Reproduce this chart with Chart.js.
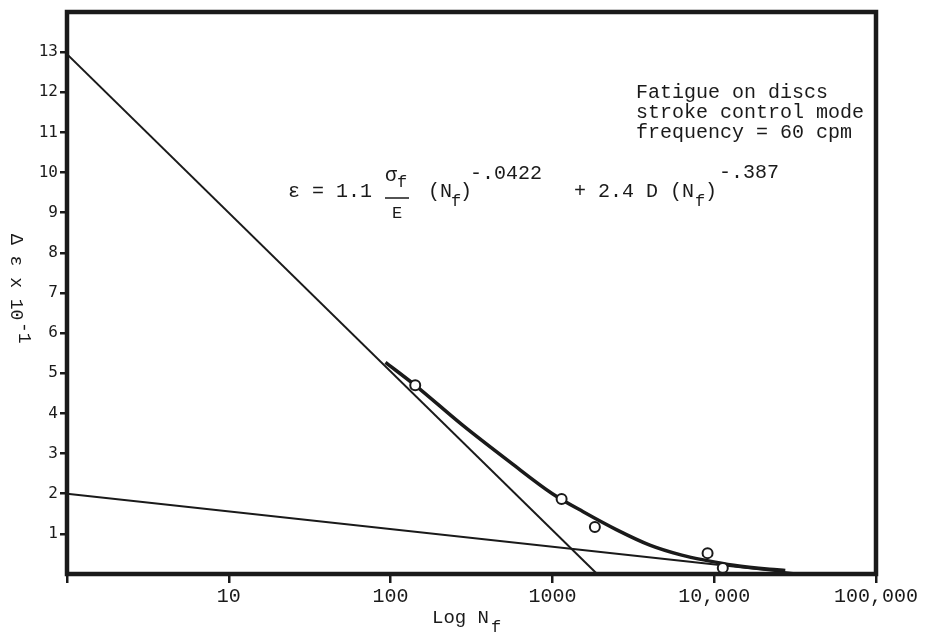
<!DOCTYPE html>
<html>
<head>
<meta charset="utf-8">
<script src="https://cdn.jsdelivr.net/npm/chart.js@4.4.1/dist/chart.umd.min.js"></script>
<style>
  html, body { margin: 0; padding: 0; background: #fff; }
  canvas { display: block; }
</style>
</head>
<body>
<canvas id="c" width="929" height="633"></canvas>
<script>
// ---- data ----
const xTickValues = [1, 10, 100, 1000, 10000, 100000];
const xTickLabels = ['', '10', '100', '1000', '10,000', '100,000'];
const yTickLabels = ['1','2','3','4','5','6','7','8','9','10','11','12','13'];

// measured fatigue data (circles)
const pointsN   = [142, 1140, 1830, 9100, 11300];
const pointsEps = [4.70, 1.87, 1.17, 0.52, 0.15];

// elastic (steep) straight line
const steepN   = [1, 1890];
const steepEps = [12.95, 0];

// plastic (shallow) straight line
const shallowN   = [1, 35000];
const shallowEps = [2.0, 0];

// fitted curve (thick)
const curveN   = [93, 142, 276, 550, 1000, 1550, 2500, 4000, 6300, 8900, 13200, 22000, 27500];
const curveEps = [5.27, 4.70, 3.72, 2.78, 2.00, 1.55, 1.10, 0.72, 0.47, 0.34, 0.22, 0.12, 0.09];

const toXY = (xs, ys) => xs.map((x, i) => ({ x: x, y: ys[i] }));

const INK = '#1a1a1a';
const MONO = '"Liberation Mono", "Courier New", monospace';

const annotations = {
  id: 'annotations',
  afterDraw(chart) {
    const ctx = chart.ctx;
    const a = chart.chartArea;
    ctx.save();
    // frame
    ctx.strokeStyle = INK;
    ctx.lineWidth = 4.5;
    ctx.strokeRect(a.left, a.top, a.right - a.left, a.bottom - a.top);

    ctx.fillStyle = INK;
    ctx.textBaseline = 'middle';
    ctx.textAlign = 'left';

    // legend text block
    ctx.font = '20px ' + MONO;
    ctx.fillText('Fatigue on discs', 636, 93);
    ctx.fillText('stroke control mode', 636, 113);
    ctx.fillText('frequency = 60 cpm', 636, 133);

    // equation
    const yM = 192, ySup = 174, ySub = 201;
    ctx.font = '20px ' + MONO;
    ctx.fillText('\u03b5 = 1.1', 288, yM);
    ctx.fillText('\u03c3', 385, 176);
    ctx.font = '17px ' + MONO;
    ctx.fillText('f', 397, 182);
    ctx.lineWidth = 1.5;
    ctx.beginPath();
    ctx.moveTo(385, 198); ctx.lineTo(409, 198);
    ctx.stroke();
    ctx.font = '17px ' + MONO;
    ctx.fillText('E', 392, 213);
    ctx.font = '20px ' + MONO;
    ctx.fillText('(N', 428, yM);
    ctx.font = '17px ' + MONO;
    ctx.fillText('f', 451, ySub);
    ctx.font = '20px ' + MONO;
    ctx.fillText(')', 460, yM);
    ctx.fillText('-.0422', 470, ySup);
    ctx.fillText('+ 2.4 D (N', 574, yM);
    ctx.font = '17px ' + MONO;
    ctx.fillText('f', 695, ySub);
    ctx.font = '20px ' + MONO;
    ctx.fillText(')', 705, yM);
    ctx.fillText('-.387', 719, ySup - 1);

    // x axis title: Log N_f
    ctx.font = '19px ' + MONO;
    ctx.fillText('Log N', 432, 618);
    ctx.font = '17px ' + MONO;
    ctx.fillText('f', 491, 627);

    // y axis title, rotated clockwise
    ctx.translate(16, 234);
    ctx.rotate(Math.PI / 2);
    ctx.font = '18px ' + MONO;
    ctx.fillText('\u0394 \u03b5 x 10', 0, 0);
    ctx.fillText('-1', 88, -8);
    ctx.restore();
  }
};

new Chart(document.getElementById('c'), {
  type: 'scatter',
  data: {
    datasets: [
      {
        label: 'data',
        data: toXY(pointsN, pointsEps),
        showLine: false,
        pointStyle: 'circle',
        pointRadius: 5,
        pointBorderWidth: 2,
        pointBorderColor: INK,
        pointBackgroundColor: '#ffffff'
      },
      {
        label: 'fit',
        data: toXY(curveN, curveEps),
        showLine: true,
        borderColor: INK,
        borderWidth: 3.5,
        pointRadius: 0,
        cubicInterpolationMode: 'monotone'
      },
      {
        label: 'steep',
        data: toXY(steepN, steepEps),
        showLine: true,
        borderColor: INK,
        borderWidth: 2,
        pointRadius: 0
      },
      {
        label: 'shallow',
        data: toXY(shallowN, shallowEps),
        showLine: true,
        borderColor: INK,
        borderWidth: 2,
        pointRadius: 0
      }
    ]
  },
  options: {
    responsive: false,
    animation: false,
    devicePixelRatio: 1,
    layout: { padding: { top: 12, right: 53, left: 0, bottom: 0 } },
    plugins: {
      legend: { display: false },
      tooltip: { enabled: false },
      title: { display: false }
    },
    scales: {
      x: {
        type: 'logarithmic',
        min: 1,
        max: 100000,
        border: { display: false },
        grid: {
          drawOnChartArea: false,
          drawTicks: true,
          tickLength: 9,
          color: INK,
          lineWidth: 2.5
        },
        afterBuildTicks(scale) {
          scale.ticks = xTickValues.map(v => ({ value: v, major: true }));
        },
        afterFit(scale) { scale.height = 59; },
        ticks: {
          autoSkip: false,
          maxRotation: 0,
          minRotation: 0,
          padding: 2,
          color: INK,
          font: { family: MONO, size: 20 },
          callback(value) {
            const i = xTickValues.indexOf(value);
            return i >= 0 ? xTickLabels[i] : '';
          }
        }
      },
      y: {
        type: 'linear',
        min: 0,
        max: 14,
        border: { display: false },
        grid: {
          drawOnChartArea: false,
          drawTicks: true,
          tickLength: 7,
          lineWidth: 2.5,
          color(ctx) {
            const v = ctx.tick ? ctx.tick.value : 0;
            return (v >= 1 && v <= 13) ? INK : 'rgba(0,0,0,0)';
          }
        },
        afterFit(scale) { scale.width = 67; },
        ticks: {
          stepSize: 1,
          padding: 2,
          color: INK,
          font: { family: '"DejaVu Sans Mono", monospace', size: 16 },
          callback(value) {
            return (value >= 1 && value <= 13) ? yTickLabels[value - 1] : '';
          }
        }
      }
    }
  },
  plugins: [annotations]
});
</script>
</body>
</html>
